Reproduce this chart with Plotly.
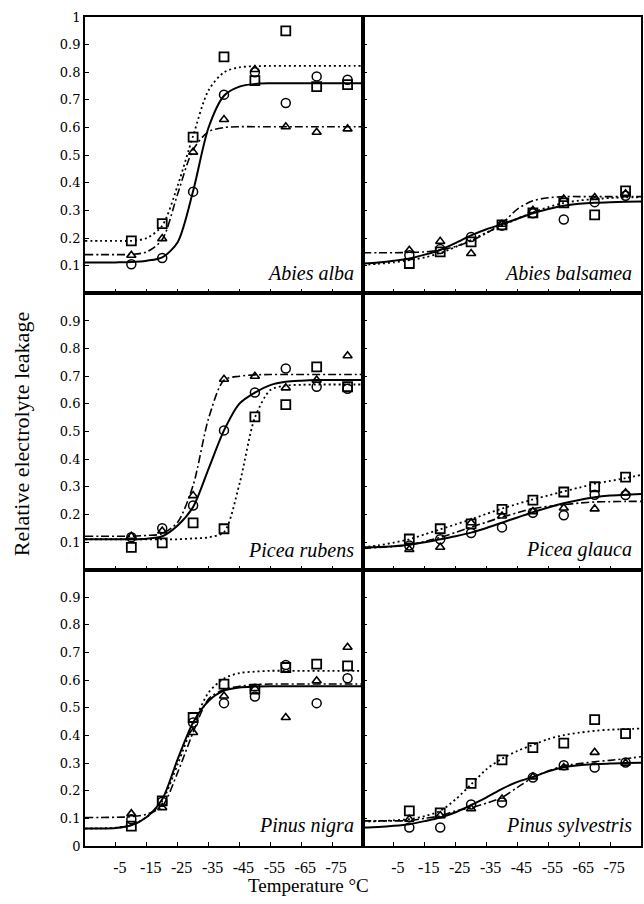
import plotly.graph_objects as go
from plotly.subplots import make_subplots

# ---------------- data ----------------
TEMPS = [-10, -20, -30, -40, -50, -60, -70, -80]
CURVE_T = [5, 0, -5, -10, -15, -20, -25, -30, -35, -40, -45, -50, -55, -60, -65, -70, -75, -80, -85]
X_TICKS = [-5, -15, -25, -35, -45, -55, -65, -75]
X_TICK_TEXT = ["-5", "-15", "-25", "-35", "-45", "-55", "-65", "-75"]

SPECIES = ["Abies alba", "Abies balsamea", "Picea rubens", "Picea glauca", "Pinus nigra", "Pinus sylvestris"]

# measured points (circles, squares, triangles)
abies_alba_circle = [0.105, 0.128, 0.368, 0.719, 0.80, 0.689, 0.785, 0.773]
abies_alba_square = [0.19, 0.252, 0.565, 0.856, 0.77, 0.95, 0.748, 0.755]
abies_alba_triangle = [0.138, 0.198, 0.511, 0.629, 0.81, 0.603, 0.583, 0.595]

abies_balsamea_circle = [0.138, 0.16, 0.204, 0.245, 0.29, 0.267, 0.33, 0.353]
abies_balsamea_square = [0.108, 0.15, 0.186, 0.248, 0.291, 0.327, 0.284, 0.371]
abies_balsamea_triangle = [0.156, 0.188, 0.144, 0.25, 0.30, 0.341, 0.347, 0.36]

picea_rubens_circle = [0.117, 0.15, 0.232, 0.504, 0.641, 0.728, 0.662, 0.655]
picea_rubens_square = [0.081, 0.097, 0.169, 0.148, 0.553, 0.597, 0.734, 0.662]
picea_rubens_triangle = [0.121, 0.14, 0.268, 0.689, 0.70, 0.658, 0.686, 0.774]

picea_glauca_circle = [0.087, 0.11, 0.133, 0.153, 0.206, 0.197, 0.271, 0.27]
picea_glauca_square = [0.111, 0.148, 0.166, 0.218, 0.252, 0.281, 0.30, 0.335]
picea_glauca_triangle = [0.073, 0.081, 0.17, 0.194, 0.21, 0.223, 0.22, 0.278]

pinus_nigra_circle = [0.097, 0.16, 0.447, 0.517, 0.541, 0.655, 0.517, 0.607]
pinus_nigra_square = [0.072, 0.163, 0.465, 0.586, 0.568, 0.646, 0.658, 0.652]
pinus_nigra_triangle = [0.117, 0.139, 0.411, 0.543, 0.57, 0.465, 0.598, 0.719]

pinus_sylvestris_circle = [0.067, 0.067, 0.15, 0.157, 0.248, 0.292, 0.284, 0.302]
pinus_sylvestris_square = [0.127, 0.12, 0.227, 0.312, 0.356, 0.372, 0.457, 0.407]
pinus_sylvestris_triangle = [0.097, 0.11, 0.135, 0.17, 0.25, 0.284, 0.339, 0.30]

# fitted curves at CURVE_T
abies_alba_fit_solid = [0.112, 0.112, 0.112, 0.113, 0.118, 0.13, 0.185, 0.37, 0.60, 0.715, 0.748, 0.758, 0.76, 0.76, 0.76, 0.76, 0.76, 0.76, 0.76]
abies_alba_fit_dot = [0.19, 0.19, 0.19, 0.19, 0.20, 0.245, 0.39, 0.57, 0.735, 0.80, 0.818, 0.822, 0.823, 0.823, 0.823, 0.823, 0.823, 0.823, 0.823]
abies_alba_fit_dashdot = [0.14, 0.14, 0.14, 0.141, 0.15, 0.195, 0.36, 0.52, 0.585, 0.60, 0.603, 0.603, 0.603, 0.603, 0.603, 0.603, 0.603, 0.603, 0.603]

abies_balsamea_fit_solid = [0.108, 0.112, 0.118, 0.126, 0.14, 0.157, 0.182, 0.21, 0.232, 0.25, 0.27, 0.29, 0.305, 0.317, 0.324, 0.328, 0.33, 0.331, 0.332]
abies_balsamea_fit_dot = [0.103, 0.107, 0.112, 0.12, 0.13, 0.146, 0.168, 0.193, 0.22, 0.245, 0.27, 0.293, 0.312, 0.327, 0.336, 0.341, 0.345, 0.347, 0.348]
abies_balsamea_fit_dashdot = [0.147, 0.147, 0.147, 0.148, 0.15, 0.157, 0.17, 0.19, 0.218, 0.253, 0.305, 0.335, 0.346, 0.35, 0.35, 0.35, 0.35, 0.35, 0.35]

picea_rubens_fit_solid = [0.11, 0.11, 0.11, 0.11, 0.112, 0.121, 0.16, 0.227, 0.365, 0.504, 0.601, 0.641, 0.668, 0.68, 0.684, 0.686, 0.686, 0.686, 0.686]
picea_rubens_fit_dot = [0.11, 0.11, 0.11, 0.11, 0.11, 0.11, 0.11, 0.113, 0.117, 0.136, 0.31, 0.55, 0.65, 0.666, 0.669, 0.67, 0.67, 0.67, 0.67]
picea_rubens_fit_dashdot = [0.121, 0.121, 0.121, 0.121, 0.124, 0.13, 0.172, 0.305, 0.547, 0.686, 0.70, 0.705, 0.706, 0.706, 0.706, 0.706, 0.706, 0.706, 0.706]

picea_glauca_fit_solid = [0.081, 0.082, 0.085, 0.09, 0.099, 0.11, 0.121, 0.134, 0.151, 0.17, 0.189, 0.208, 0.225, 0.24, 0.252, 0.262, 0.268, 0.271, 0.274]
picea_glauca_fit_dot = [0.081, 0.088, 0.098, 0.11, 0.128, 0.146, 0.164, 0.182, 0.202, 0.221, 0.238, 0.254, 0.269, 0.283, 0.297, 0.311, 0.321, 0.331, 0.343]
picea_glauca_fit_dashdot = [0.077, 0.08, 0.084, 0.09, 0.102, 0.117, 0.135, 0.154, 0.172, 0.19, 0.206, 0.221, 0.229, 0.235, 0.241, 0.245, 0.246, 0.247, 0.247]

pinus_nigra_fit_solid = [0.063, 0.063, 0.065, 0.075, 0.105, 0.169, 0.314, 0.447, 0.525, 0.562, 0.574, 0.577, 0.578, 0.578, 0.578, 0.578, 0.578, 0.578, 0.578]
pinus_nigra_fit_dot = [0.063, 0.064, 0.066, 0.076, 0.105, 0.163, 0.296, 0.44, 0.555, 0.606, 0.626, 0.631, 0.634, 0.634, 0.634, 0.634, 0.634, 0.634, 0.634]
pinus_nigra_fit_dashdot = [0.103, 0.103, 0.104, 0.106, 0.115, 0.144, 0.266, 0.411, 0.532, 0.566, 0.578, 0.584, 0.586, 0.586, 0.586, 0.586, 0.586, 0.586, 0.586]

pinus_sylvestris_fit_solid = [0.067, 0.069, 0.073, 0.079, 0.09, 0.103, 0.122, 0.148, 0.176, 0.207, 0.232, 0.25, 0.27, 0.285, 0.292, 0.296, 0.299, 0.30, 0.301]
pinus_sylvestris_fit_dot = [0.088, 0.09, 0.093, 0.097, 0.108, 0.127, 0.169, 0.223, 0.278, 0.316, 0.344, 0.366, 0.387, 0.401, 0.41, 0.417, 0.421, 0.423, 0.425]
pinus_sylvestris_fit_dashdot = [0.091, 0.091, 0.091, 0.092, 0.10, 0.109, 0.127, 0.139, 0.155, 0.176, 0.212, 0.248, 0.272, 0.29, 0.298, 0.305, 0.31, 0.316, 0.323]

PANELS = [
    (abies_alba_circle, abies_alba_square, abies_alba_triangle,
     abies_alba_fit_solid, abies_alba_fit_dot, abies_alba_fit_dashdot),
    (abies_balsamea_circle, abies_balsamea_square, abies_balsamea_triangle,
     abies_balsamea_fit_solid, abies_balsamea_fit_dot, abies_balsamea_fit_dashdot),
    (picea_rubens_circle, picea_rubens_square, picea_rubens_triangle,
     picea_rubens_fit_solid, picea_rubens_fit_dot, picea_rubens_fit_dashdot),
    (picea_glauca_circle, picea_glauca_square, picea_glauca_triangle,
     picea_glauca_fit_solid, picea_glauca_fit_dot, picea_glauca_fit_dashdot),
    (pinus_nigra_circle, pinus_nigra_square, pinus_nigra_triangle,
     pinus_nigra_fit_solid, pinus_nigra_fit_dot, pinus_nigra_fit_dashdot),
    (pinus_sylvestris_circle, pinus_sylvestris_square, pinus_sylvestris_triangle,
     pinus_sylvestris_fit_solid, pinus_sylvestris_fit_dot, pinus_sylvestris_fit_dashdot),
]

Y_TICKS_TOP = [0.1, 0.2, 0.3, 0.4, 0.5, 0.6, 0.7, 0.8, 0.9, 1]
Y_TICKS_MID = [0.1, 0.2, 0.3, 0.4, 0.5, 0.6, 0.7, 0.8, 0.9]
Y_TICKS_BOT = [0, 0.1, 0.2, 0.3, 0.4, 0.5, 0.6, 0.7, 0.8, 0.9]

# ---------------- figure ----------------
SERIF = "Liberation Serif, Times New Roman, serif"
TICKFONT = "DejaVu Serif, serif"

fig = make_subplots(rows=3, cols=2, horizontal_spacing=0, vertical_spacing=0)

for i, (pc, ps, pt, fs, fd, fdd) in enumerate(PANELS):
    r, c = i // 2 + 1, i % 2 + 1
    fig.add_trace(go.Scatter(x=CURVE_T, y=fd, mode="lines", line=dict(color="black", width=1.8, dash="2px,3px", shape="spline", smoothing=0.8), showlegend=False, hoverinfo="skip"), row=r, col=c)
    fig.add_trace(go.Scatter(x=CURVE_T, y=fdd, mode="lines", line=dict(color="black", width=1.6, dash="8px,3px,2px,3px", shape="spline", smoothing=0.8), showlegend=False, hoverinfo="skip"), row=r, col=c)
    fig.add_trace(go.Scatter(x=CURVE_T, y=fs, mode="lines", line=dict(color="black", width=2, shape="spline", smoothing=0.8), showlegend=False, hoverinfo="skip"), row=r, col=c)
    fig.add_trace(go.Scatter(x=TEMPS, y=ps, mode="markers", marker=dict(symbol="square-open", size=9, color="black", line=dict(color="black", width=1.8)), showlegend=False), row=r, col=c)
    fig.add_trace(go.Scatter(x=TEMPS, y=pt, mode="markers", marker=dict(symbol="triangle-up-open", size=8, color="black", line=dict(color="black", width=1.6)), showlegend=False), row=r, col=c)
    fig.add_trace(go.Scatter(x=TEMPS, y=pc, mode="markers", marker=dict(symbol="circle-open", size=9, color="black", line=dict(color="black", width=1.5)), showlegend=False), row=r, col=c)

    yt = Y_TICKS_TOP if r == 1 else (Y_TICKS_MID if r == 2 else Y_TICKS_BOT)
    ykey = "yaxis" if i == 0 else "yaxis%d" % (i + 1)
    xkey = "xaxis" if i == 0 else "xaxis%d" % (i + 1)
    fig.layout[ykey].update(
        range=[0, 1], tickmode="array", tickvals=yt,
        ticktext=[("%g" % v) for v in yt] if c == 1 else [""] * len(yt),
        showticklabels=(c == 1),
        ticks="inside", ticklen=4, tickwidth=1, tickcolor="black",
        showline=True, linecolor="black", linewidth=1.8, mirror=True,
        showgrid=False, zeroline=False,
        tickfont=dict(family=TICKFONT, size=13, color="black"))
    fig.layout[xkey].update(
        range=[5, -85], tickmode="array", tickvals=X_TICKS, ticktext=X_TICK_TEXT,
        showticklabels=(r == 3),
        ticks="inside", ticklen=4, tickwidth=1, tickcolor="black",
        showline=True, linecolor="black", linewidth=1.8, mirror=True,
        showgrid=False, zeroline=False,
        tickfont=dict(family=SERIF, size=16, color="black"),
        ticklabelstandoff=6, ticklabelshift=-4)
    xr = "x domain" if i == 0 else "x%d domain" % (i + 1)
    yr = "y domain" if i == 0 else "y%d domain" % (i + 1)
    fig.add_annotation(text=SPECIES[i], xref=xr, yref=yr, x=0.975, y=0.025,
                       xanchor="right", yanchor="bottom", showarrow=False,
                       font=dict(family=SERIF, size=20, color="black", style="italic"))

fig.add_annotation(text="Relative electrolyte leakage", xref="paper", yref="paper",
                   x=-0.113, y=0.497, textangle=-90, showarrow=False,
                   xanchor="center", yanchor="middle",
                   font=dict(family=SERIF, size=22, color="black"))
fig.add_annotation(text="Temperature °C", xref="paper", yref="paper",
                   x=0.4025, y=-0.048, showarrow=False,
                   xanchor="center", yanchor="middle",
                   font=dict(family=SERIF, size=19, color="black"))

fig.update_layout(width=644, height=904, margin=dict(l=85, r=1, t=17, b=58),
                  plot_bgcolor="white", paper_bgcolor="white", showlegend=False)

fig.write_html("out.html")
